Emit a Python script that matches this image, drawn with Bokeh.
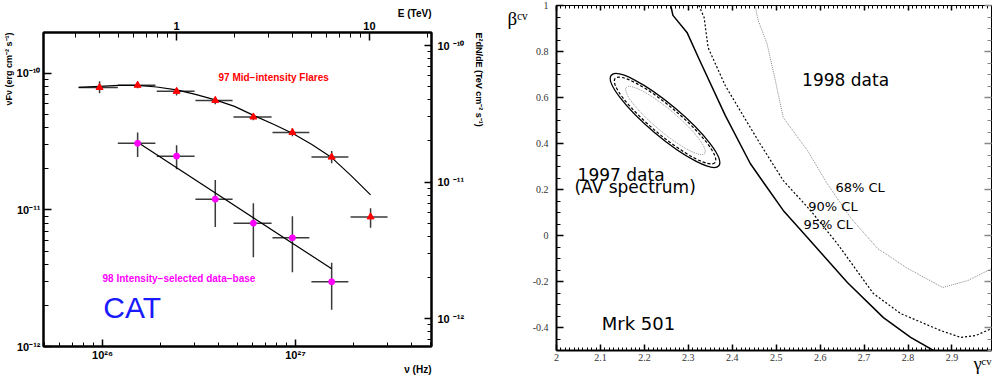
import math
from bokeh.plotting import figure
from bokeh.models import (Range1d, LogScale, LogAxis, LinearAxis, FixedTicker,
                          CustomJSTickFormatter, Label, SingleIntervalTicker, Title)
from bokeh.layouts import row
from bokeh.embed import file_html
from bokeh.resources import INLINE

# ------------------------------------------------------------------
# Left panel data : CAT spectra of Mrk 501 (nu in Hz, nuFnu in erg cm^-2 s^-1)
# ------------------------------------------------------------------
nu97 = [9.65e25, 1.52e26, 2.42e26, 3.84e26, 6.05e26, 9.64e26, 1.54e27, 2.45e27]
nu97_lo = [7.52e25, 1.20e26, 1.91e26, 3.03e26, 4.77e26, 7.60e26, 1.21e27, 1.93e27]
nu97_hi = [1.20e26, 1.88e26, 3.00e26, 4.72e26, 7.52e26, 1.18e27, 1.88e27, 3.00e27]
f97 = [7.9e-11, 8.2e-11, 7.4e-11, 6.35e-11, 4.8e-11, 3.7e-11, 2.44e-11, 8.9e-12]
f97_lo = [7.15e-11, 7.8e-11, 6.9e-11, 5.94e-11, 4.54e-11, 3.47e-11, 2.20e-11, 7.4e-12]
f97_hi = [8.75e-11, 8.6e-11, 7.8e-11, 6.68e-11, 5.02e-11, 3.97e-11, 2.70e-11, 1.03e-11]

nu98 = [1.52e26, 2.42e26, 3.84e26, 6.05e26, 9.64e26, 1.54e27]
nu98_lo = [1.20e26, 1.91e26, 3.03e26, 4.77e26, 7.60e26, 1.21e27]
nu98_hi = [1.88e26, 3.00e26, 4.72e26, 7.52e26, 1.18e27, 1.88e27]
f98 = [3.08e-11, 2.48e-11, 1.20e-11, 8.0e-12, 6.25e-12, 2.98e-12]
f98_lo = [2.44e-11, 1.99e-11, 7.5e-12, 4.5e-12, 3.5e-12, 1.86e-12]
f98_hi = [3.70e-11, 2.98e-11, 1.66e-11, 1.12e-11, 9.0e-12, 4.1e-12]

# fitted curve (1997) and power law (1998)
fit97_nu = [7.52e25, 9.65e25, 1.21e26, 1.52e26, 1.91e26, 2.42e26, 3.03e26, 3.84e26,
            4.83e26, 6.14e26, 7.69e26, 9.64e26, 1.21e27, 1.54e27, 1.93e27, 2.45e27]
fit97_f = [7.90e-11, 8.04e-11, 8.17e-11, 8.17e-11, 7.96e-11, 7.58e-11, 7.03e-11, 6.41e-11,
           5.74e-11, 4.89e-11, 4.25e-11, 3.65e-11, 3.03e-11, 2.42e-11, 1.80e-11, 1.29e-11]
fit98_nu = [1.52e26, 1.54e27]
fit98_f = [3.13e-11, 3.71e-12]

nu_ticks = [1e26, 1e27]
f_ticks = [1e-12, 1e-11, 1e-10]
e_ticks = [1, 10]

# ------------------------------------------------------------------
# Right panel data : (gamma, beta) confidence contours
# ------------------------------------------------------------------
ell_x = [2.247, 2.247, 2.248]
ell_y = [0.50, 0.50, 0.50]
ell_w = [0.320, 0.297, 0.233]
ell_h = [0.139, 0.122, 0.096]
ell_angle = [-0.70, -0.70, -0.70]

c95_x = [2.260, 2.265, 2.297, 2.326, 2.384, 2.441, 2.468, 2.516, 2.571, 2.662, 2.744, 2.806, 2.858]
c95_y = [1.000, 0.957, 0.883, 0.761, 0.522, 0.313, 0.239, 0.109, -0.009, -0.204, -0.357, -0.443, -0.500]
c90_x = [2.324, 2.336, 2.345, 2.384, 2.418, 2.463, 2.516, 2.578, 2.639, 2.721, 2.783, 2.874, 2.920, 2.954, 2.991]
c90_y = [1.000, 0.948, 0.817, 0.652, 0.543, 0.400, 0.239, 0.109, -0.035, -0.252, -0.339, -0.413, -0.443, -0.435, -0.404]
c68_x = [2.452, 2.459, 2.479, 2.498, 2.516, 2.571, 2.616, 2.669, 2.731, 2.799, 2.879, 2.936, 2.991]
c68_y = [1.000, 0.935, 0.835, 0.674, 0.513, 0.370, 0.226, 0.078, -0.057, -0.143, -0.226, -0.196, -0.143]

# unit conversions for the secondary axes
H_TEV_S = 4.1357e-27      # Planck constant in TeV s
ERG_PER_TEV = 1.602

NU_MIN, NU_MAX = 10 ** 25.694, 10 ** 27.705
F_MIN, F_MAX = 1e-12, 10 ** -9.70

SUPMAP = """const sup = {"-": "\u207b", "0": "\u2070", "1": "\u00b9", "2": "\u00b2", "3": "\u00b3",
             "4": "\u2074", "5": "\u2075", "6": "\u2076", "7": "\u2077", "8": "\u2078", "9": "\u2079"};
const e = String(Math.round(Math.log10(tick))).split("").map(c => sup[c]).join("");
"""
SUP_JS = SUPMAP + 'return "10" + e;'
SUP_GAP_JS = SUPMAP + 'return "10  " + e;'

BOLD = "Liberation Sans"
SERIF = "Liberation Serif"


def minors(lo_exp, hi_exp):
    return [k * 10.0 ** e for e in range(lo_exp, hi_exp + 1) for k in range(2, 10)]


def try_set(obj, name, *values):
    for v in values:
        try:
            setattr(obj, name, v)
            return True
        except Exception:
            pass
    return False


def style_axis(ax, font, size, bold, tin, minin, standoff, lw=2):
    ax.axis_line_color = "black"
    ax.axis_line_width = lw
    ax.major_tick_in = tin
    ax.major_tick_out = 0
    ax.minor_tick_in = minin
    ax.minor_tick_out = 0
    ax.major_tick_line_color = "black"
    ax.minor_tick_line_color = "black"
    ax.major_tick_line_width = 1.5
    ax.minor_tick_line_width = 1
    ax.major_label_text_font = font
    ax.major_label_text_font_size = size
    ax.major_label_text_font_style = "bold" if bold else "normal"
    ax.major_label_text_color = "black"
    ax.major_label_standoff = standoff


def side_title(text, font, size, bold, align="right", standoff=0, valign="bottom"):
    return Title(text=text, align=align, vertical_align=valign, standoff=standoff, offset=0,
                 text_font=font, text_font_size=size,
                 text_font_style="bold" if bold else "normal", text_color="black")


# ------------------------------------------------------------------ left
p1 = figure(width=500, height=377, min_border_left=43, min_border_right=69,
            min_border_top=32, min_border_bottom=31,
            x_axis_type="log", y_axis_type="log",
            x_range=Range1d(NU_MIN, NU_MAX), y_range=Range1d(F_MIN, F_MAX),
            output_backend="svg", toolbar_location=None)
try_set(p1, "frame_align", False)
p1.grid.visible = False
p1.outline_line_color = "black"
p1.outline_line_width = 2

p1.extra_x_ranges = {"tev": Range1d(NU_MIN * H_TEV_S, NU_MAX * H_TEV_S)}
p1.extra_x_scales = {"tev": LogScale()}
p1.extra_y_ranges = {"tev": Range1d(F_MIN / ERG_PER_TEV, F_MAX / ERG_PER_TEV)}
p1.extra_y_scales = {"tev": LogScale()}

xa = p1.xaxis[0]
xa.ticker = FixedTicker(ticks=nu_ticks, minor_ticks=minors(25, 27))
xa.formatter = CustomJSTickFormatter(code=SUP_JS)
style_axis(xa, BOLD, "11px", True, 7, 4, 2)

ya = p1.yaxis[0]
ya.ticker = FixedTicker(ticks=f_ticks, minor_ticks=minors(-12, -10))
ya.formatter = CustomJSTickFormatter(code=SUP_JS)
style_axis(ya, BOLD, "11px", True, 8, 5, 3)

top = LogAxis(x_range_name="tev")
top.ticker = FixedTicker(ticks=e_ticks, minor_ticks=minors(-1, 1))
top.formatter = CustomJSTickFormatter(code="return String(Math.round(tick));")
style_axis(top, BOLD, "11px", True, 8, 5, 3)
p1.add_layout(top, "above")

right = LogAxis(y_range_name="tev")
right.ticker = FixedTicker(ticks=f_ticks, minor_ticks=minors(-13, -10))
right.formatter = CustomJSTickFormatter(code=SUP_GAP_JS)
style_axis(right, BOLD, "11px", True, 7, 4, 6)
p1.add_layout(right, "right")

p1.add_layout(side_title("\u03bdF\u03bd (erg cm\u207b\u00b2 s\u207b\u00b9)", BOLD, "9px", True), "left")
p1.add_layout(side_title("E\u00b2dN/dE (TeV cm\u207b\u00b2 s\u207b\u00b9)", BOLD, "9px", True,
                         align="left", standoff=6), "right")
p1.add_layout(side_title("E (TeV)", BOLD, "10px", True), "above")
p1.add_layout(side_title("\u03bd (Hz)", BOLD, "10px", True, valign="top"), "below")

# error bars
ebar = dict(line_color="#3a3a3a", line_width=1.5)
p1.segment(x0=nu97_lo, y0=f97, x1=nu97_hi, y1=f97, **ebar)
p1.segment(x0=nu97, y0=f97_lo, x1=nu97, y1=f97_hi, **ebar)
p1.segment(x0=nu98_lo, y0=f98, x1=nu98_hi, y1=f98, **ebar)
p1.segment(x0=nu98, y0=f98_lo, x1=nu98, y1=f98_hi, **ebar)
# fits
p1.line(fit97_nu, fit97_f, line_color="black", line_width=1.2)
p1.line(fit98_nu, fit98_f, line_color="black", line_width=1.2)
# points
p1.scatter(nu97, f97, marker="triangle", size=7, fill_color="red", line_color="red")
p1.scatter(nu98, f98, marker="circle", size=6, fill_color="magenta", line_color="magenta")

lab = dict(text_font=BOLD, text_font_style="bold", text_baseline="middle")
p1.add_layout(Label(x=3.99e26, y=9.35e-11, text="97 Mid\u2212intensity Flares",
                    text_color="red", text_font_size="10px", **lab))
p1.add_layout(Label(x=1.0e26, y=3.13e-12, text="98 Intensity\u2212selected data\u2212base",
                    text_color="magenta", text_font_size="10px", **lab))
p1.add_layout(Label(x=1.01e26, y=1.93e-12, text="CAT", text_color="#1a1aff",
                    text_font=BOLD, text_font_size="30px", text_baseline="middle"))

# ------------------------------------------------------------------ right
p2 = figure(width=493, height=377, min_border_left=56, min_border_right=2,
            min_border_top=5, min_border_bottom=27,
            x_range=Range1d(2.0, 2.99), y_range=Range1d(-0.5, 1.0),
            output_backend="svg", toolbar_location=None)
try_set(p2, "frame_align", False)
p2.grid.visible = False
p2.outline_line_color = "black"
p2.outline_line_width = 1

NUMFMT = "return Number(tick.toFixed(2)).toString();"
bx = p2.xaxis[0]
bx.ticker = SingleIntervalTicker(interval=0.1, num_minor_ticks=10)
bx.formatter = CustomJSTickFormatter(code=NUMFMT)
style_axis(bx, SERIF, "10px", False, 6, 3, 3)
bx.major_label_text_color = "#333333"

ly = p2.yaxis[0]
ly.ticker = SingleIntervalTicker(interval=0.2, num_minor_ticks=4)
ly.formatter = CustomJSTickFormatter(code=NUMFMT)
style_axis(ly, SERIF, "10px", False, 7, 4, 8)
ly.major_label_text_color = "#333333"
ly.axis_label = "\u00a0\n\u03b2\u1d9c\u1d5b"
ly.axis_label_text_font = SERIF
ly.axis_label_text_font_size = "19px"
ly.axis_label_text_font_style = "normal"
ly.axis_label_text_color = "black"
ly.axis_label_standoff = 2
try_set(ly, "axis_label_align", "end", "right")
try_set(ly, "axis_label_orientation", "horizontal")

BLANK = CustomJSTickFormatter(code='return "";')
tx = LinearAxis(ticker=SingleIntervalTicker(interval=0.1, num_minor_ticks=10), formatter=BLANK)
style_axis(tx, SERIF, "10px", False, 5, 3, 0, lw=1)
p2.add_layout(tx, "above")
ry = LinearAxis(ticker=SingleIntervalTicker(interval=0.2, num_minor_ticks=4), formatter=BLANK)
style_axis(ry, SERIF, "10px", False, 7, 4, 0, lw=1)
ry.major_tick_line_color = "#888888"
ry.minor_tick_line_color = "#888888"
p2.add_layout(ry, "right")

p2.add_layout(side_title("\u03b3\u1d9c\u1d5b", SERIF, "18px", False, standoff=-20, valign="top"), "below")

p2.ellipse(x=ell_x, y=ell_y, width=ell_w, height=ell_h, angle=ell_angle,
           fill_color=None, line_color=["black", "black", "#888888"],
           line_width=[1.3, 1.2, 1.0], line_dash=["solid", "3 2", "1 1"])
p2.line(c95_x, c95_y, line_color="black", line_width=1.5)
p2.line(c90_x, c90_y, line_color="black", line_width=1.2, line_dash="2 2")
p2.line(c68_x, c68_y, line_color="#888888", line_width=1.0, line_dash="1 1")

t2 = dict(text_font="DejaVu Sans", text_baseline="middle", text_color="black")
p2.add_layout(Label(x=2.559, y=0.674, text="1998 data", text_font_size="17px", **t2))
p2.add_layout(Label(x=2.048, y=0.265, text="1997 data", text_font_size="17px", **t2))
p2.add_layout(Label(x=2.041, y=0.209, text="(AV spectrum)", text_font_size="17px", **t2))
p2.add_layout(Label(x=2.635, y=0.209, text="68% CL", text_font_size="13px", **t2))
p2.add_layout(Label(x=2.573, y=0.126, text="90% CL", text_font_size="13px", **t2))
p2.add_layout(Label(x=2.562, y=0.048, text="95% CL", text_font_size="13px", **t2))
p2.add_layout(Label(x=2.103, y=-0.383, text="Mrk 501", text_font_size="18px", **t2))

layout = row(p1, p2)
open("out.html", "w").write(file_html(layout, INLINE))
